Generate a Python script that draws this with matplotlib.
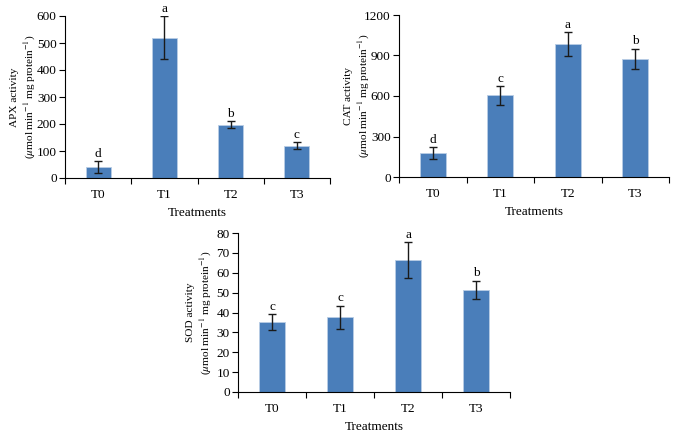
import matplotlib
matplotlib.use("Agg")
import matplotlib.pyplot as plt
import numpy as np

plt.rcParams['font.family'] = ['Liberation Serif', 'DejaVu Serif']
plt.rcParams['mathtext.fontset'] = 'stix'

## dane
treatments = ['T0', 'T1', 'T2', 'T3']

apx_mean = [40, 520, 197, 120]
apx_err = [22, 80, 13, 14]
apx_letters = ['d', 'a', 'b', 'c']

cat_mean = [178, 605, 985, 875]
cat_err = [45, 70, 90, 75]
cat_letters = ['d', 'c', 'a', 'b']

sod_mean = [35, 37.5, 66.5, 51.5]
sod_err = [4, 6, 9, 4.5]
sod_letters = ['c', 'c', 'a', 'b']

W, H = 677, 432
bar_color = '#4a7eba'


def panel(fig, box, means, errs, letters, ymax, ystep, name, lx):
    "box = (lewo, prawo, gora, dol) w pikselach, lx - prawa krawedz opisu osi y"
    l, r, t, b = box
    ax = fig.add_axes([l / W, 1 - b / H, (r - l) / W, (b - t) / H])
    x = np.arange(len(treatments)) + 0.5
    ax.bar(x, means, width=0.38, color=bar_color, edgecolor='#b9cde5', linewidth=0.6)
    ax.errorbar(x, means, yerr=errs, fmt='none', ecolor='#1a1a1a', elinewidth=1.0,
                capsize=2.6, capthick=1.0)
    for xi, m, e, lt in zip(x, means, errs, letters):
        ax.text(xi, m + e + ymax * 0.008, lt, ha='center', va='bottom', fontsize=9.5)
    ax.set_xlim(0, len(treatments))
    ax.set_ylim(0, ymax)
    ax.set_yticks(np.arange(0, ymax + 1, ystep))
    ax.set_xticks(np.arange(0, len(treatments) + 1), minor=False)
    ax.set_xticklabels([])
    ax.set_xticks(x, minor=True)
    ax.set_xticklabels(treatments, minor=True)
    ax.tick_params(axis='x', which='minor', length=0, labelsize=9.5, pad=8)
    ax.tick_params(axis='x', which='major', length=4, width=0.8, direction='out')
    ax.tick_params(axis='y', length=4, width=0.8, labelsize=9.5, pad=2)
    for s in ['top', 'right']:
        ax.spines[s].set_visible(False)
    for s in ['left', 'bottom']:
        ax.spines[s].set_linewidth(0.8)
    ax.set_xlabel('Treatments', fontsize=9.5, labelpad=4)
    ax.set_ylabel(name + ' activity\n($\\mu$mol min$^{-1}$ mg protein$^{-1}$)',
                  fontsize=8.1, linespacing=1.35)
    ax.yaxis.set_label_coords((lx - l) / (r - l), 0.5)
    return ax


fig = plt.figure(figsize=(W / 100, H / 100), dpi=100)

panel(fig, (65, 330, 16, 178), apx_mean, apx_err, apx_letters, 600, 100, 'APX', 38)
panel(fig, (399, 669, 15, 177), cat_mean, cat_err, cat_letters, 1200, 300, 'CAT', 372)
panel(fig, (238, 510, 233, 392), sod_mean, sod_err, sod_letters, 80, 10, 'SOD', 214)

fig.savefig('out.png', dpi=100)
